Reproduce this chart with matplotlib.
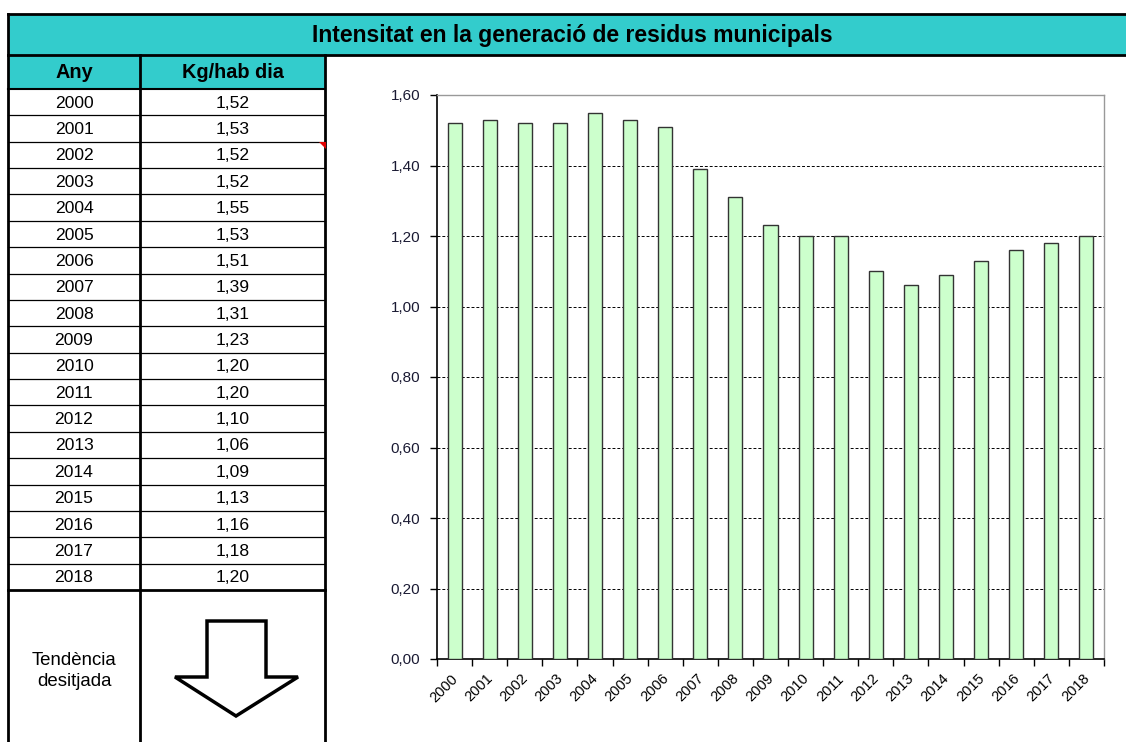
import matplotlib.pyplot as plt
import matplotlib.transforms as mtransforms
from matplotlib.patches import Rectangle, Polygon
from matplotlib.ticker import FixedLocator, FuncFormatter

plt.rcParams['font.family'] = ['Liberation Sans', 'DejaVu Sans']

# Data
years = [2000, 2001, 2002, 2003, 2004, 2005, 2006, 2007, 2008, 2009,
         2010, 2011, 2012, 2013, 2014, 2015, 2016, 2017, 2018]
kg_hab_dia = [1.52, 1.53, 1.52, 1.52, 1.55, 1.53, 1.51, 1.39, 1.31, 1.23,
              1.20, 1.20, 1.10, 1.06, 1.09, 1.13, 1.16, 1.18, 1.20]
title = "Intensitat en la generació de residus municipals"
col_headers = ["Any", "Kg/hab dia"]
trend_label = "Tendència\ndesitjada"

W, H = 1126, 742
teal = "#33CCCC"
fig = plt.figure(figsize=(W / 100, H / 100), dpi=100)

# Sheet layer in pixel coordinates
sheet = fig.add_axes([0, 0, 1, 1])
sheet.set_xlim(0, W)
sheet.set_ylim(H, 0)
sheet.axis("off")

x0, x1, x2 = 8, 140, 325
title_top, title_bot = 14, 55
head_bot = 89
row_h = 26.37
rows_bot = head_bot + row_h * len(years)

# title bar
sheet.add_patch(Rectangle((x0, title_top), W - x0 + 5, title_bot - title_top,
                          facecolor=teal, edgecolor="none"))
sheet.plot([x0, W], [title_top, title_top], color="black", lw=2)
sheet.plot([x0, W], [title_bot, title_bot], color="black", lw=2)
sheet.text(572, (title_top + title_bot) / 2 + 1, title,
           ha="center", va="center", fontsize=16.5, fontweight="bold")

# header
sheet.add_patch(Rectangle((x0, title_bot), x2 - x0, head_bot - title_bot,
                          facecolor=teal, edgecolor="none"))
sheet.text((x0 + x1) / 2, (title_bot + head_bot) / 2 + 1, col_headers[0],
           ha="center", va="center", fontsize=14.3, fontweight="bold")
sheet.text((x1 + x2) / 2, (title_bot + head_bot) / 2 + 1, col_headers[1],
           ha="center", va="center", fontsize=14.3, fontweight="bold")
sheet.plot([x0, x2], [head_bot, head_bot], color="black", lw=1.5)

# rows
for i, (yr, v) in enumerate(zip(years, kg_hab_dia)):
    yc = head_bot + row_h * (i + 0.5)
    sheet.text((x0 + x1) / 2, yc + 1, str(yr), ha="center", va="center", fontsize=12.6)
    sheet.text((x1 + x2) / 2, yc + 1, f"{v:.2f}".replace(".", ","),
               ha="center", va="center", fontsize=12.6)
    if i < len(years) - 1:
        yl = head_bot + row_h * (i + 1)
        sheet.plot([x0, x2], [yl, yl], color="black", lw=0.9)
sheet.plot([x0, x2], [rows_bot, rows_bot], color="black", lw=2)

# vertical borders
for xv in (x0, x1):
    sheet.plot([xv, xv], [title_bot, H], color="black", lw=2)
sheet.plot([x2, x2], [title_bot, H], color="black", lw=2)
sheet.plot([x0, x0], [title_top, title_bot], color="black", lw=2)

# comment marker
sheet.add_patch(Polygon([[319, 142], [326, 142], [326, 149]], closed=True,
                        facecolor="#e00000", edgecolor="none", zorder=5))

# desired trend
sheet.text((x0 + x1) / 2, 671, trend_label, ha="center", va="center",
           fontsize=13.4, linespacing=1.25)
arrow = [[207, 621], [266, 621], [266, 677], [298, 677], [236, 716],
         [175, 677], [207, 677]]
sheet.add_patch(Polygon(arrow, closed=True, facecolor="white",
                        edgecolor="black", lw=2.5, joinstyle="miter"))

# Chart
left, right, top, bottom = 437, 1104, 95, 659
ax = fig.add_axes([left / W, (H - bottom) / H, (right - left) / W, (bottom - top) / H])
pos = list(range(len(years)))
ax.bar(pos, kg_hab_dia, width=0.4, color="#CCFFCC", edgecolor="#333333",
       linewidth=1, zorder=3)
ax.set_xlim(-0.5, len(years) - 0.5)
ax.set_ylim(0, 1.6)

yt = [0, 0.2, 0.4, 0.6, 0.8, 1.0, 1.2, 1.4, 1.6]
ax.yaxis.set_major_locator(FixedLocator(yt))
ax.yaxis.set_major_formatter(FuncFormatter(lambda v, p: f"{v:.2f}".replace(".", ",")))
ax.grid(axis="y", color="black", linestyle=(0, (3, 2)), linewidth=0.7, zorder=1)
ax.tick_params(axis="y", labelsize=11, length=5, width=1, labelcolor="#1a1a33", pad=7)

ax.set_xticks(pos)
ax.set_xticklabels([str(y) for y in years], rotation=45, ha="right",
                   rotation_mode="anchor", fontsize=10.5)
ax.tick_params(axis="x", which="major", length=0, pad=9)
ax.set_xticks([p - 0.5 for p in pos] + [len(years) - 0.5], minor=True)
ax.tick_params(axis="x", which="minor", length=5, width=1)
shift = mtransforms.ScaledTranslation(-4 / 100, 0, fig.dpi_scale_trans)
for lbl in ax.get_xticklabels():
    lbl.set_transform(lbl.get_transform() + shift)

for s in ("left", "bottom"):
    ax.spines[s].set_color("black")
    ax.spines[s].set_linewidth(1.2)
for s in ("top", "right"):
    ax.spines[s].set_color("#999999")
    ax.spines[s].set_linewidth(1)

fig.savefig("out.png", dpi=100)
